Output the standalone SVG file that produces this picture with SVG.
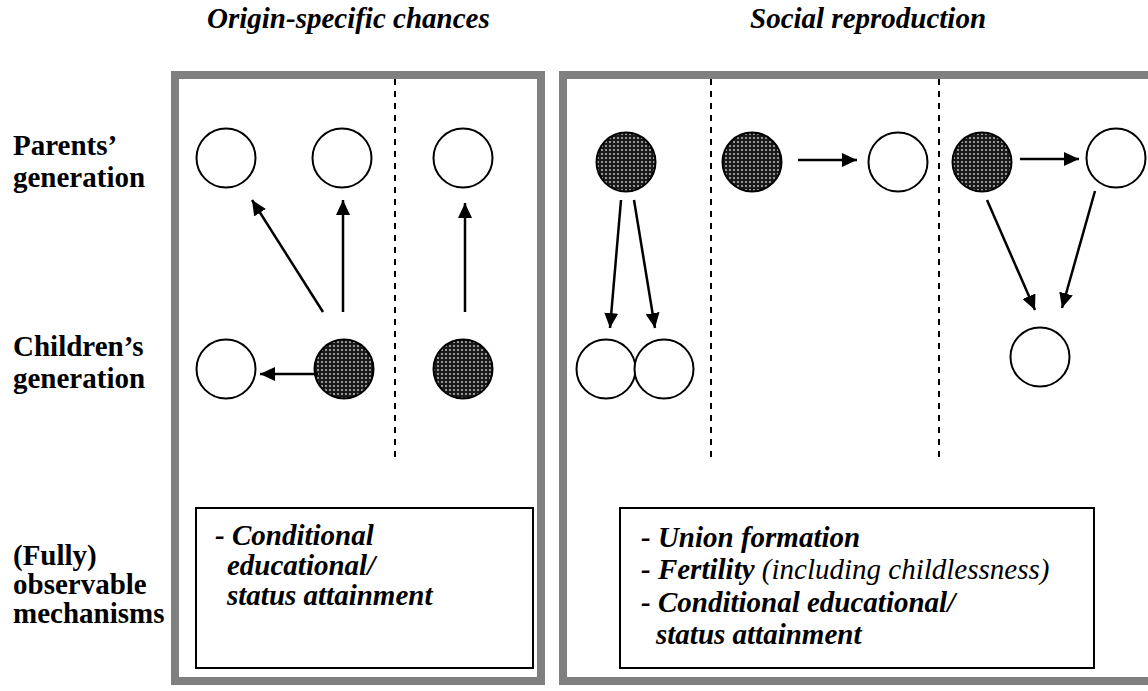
<svg xmlns="http://www.w3.org/2000/svg" width="1148" height="691" viewBox="0 0 1148 691">
<style>
.panel{fill:none;stroke:#808080;stroke-width:8}
.box{fill:#fff;stroke:#000;stroke-width:2}
.open{fill:#fff;stroke:#000;stroke-width:2}
.filled{fill:url(#dots);stroke:#000;stroke-width:2}
.dash{stroke:#000;stroke-width:2;stroke-dasharray:6,6}
.arr{stroke:#000;stroke-width:2.5;fill:none;marker-end:url(#ah)}
.it{font-style:italic}
.reg{font-weight:normal}
</style>
<defs>
<pattern id="dots" width="4" height="4" patternUnits="userSpaceOnUse">
<rect width="4" height="4" fill="#1a1a1a"/>
<circle cx="2" cy="2" r="0.9" fill="#d0d0d0"/>
</pattern>
<marker id="ah" markerUnits="userSpaceOnUse" markerWidth="16" markerHeight="14" refX="15" refY="7" orient="auto">
<path d="M0,0 L15,7 L0,14 z" fill="#000"/>
</marker>
</defs>
<rect width="1148" height="691" fill="#fff"/>
<g font-family="Liberation Serif, Tinos, Times New Roman, Noto Serif, DejaVu Serif, serif" font-weight="bold" font-size="29" fill="#000">
<g id="titles">
<text class="it" x="207" y="28">Origin-specific chances</text>
<text class="it" x="750" y="28">Social reproduction</text>
</g>
<g id="row-labels">
<text x="13" y="155">Parents’</text>
<text x="13" y="187">generation</text>
<text x="13" y="356">Children’s</text>
<text x="13" y="388">generation</text>
<text x="13" y="565">(Fully)</text>
<text x="13" y="594">observable</text>
<text x="13" y="623">mechanisms</text>
</g>
</g>
<g id="panel-left">
<rect class="panel" x="175" y="75" width="366" height="606"/>
<line class="dash" x1="395" y1="79" x2="395" y2="460"/>
</g>
<g id="panel-right">
<rect class="panel" x="563" y="75" width="590" height="606"/>
<line class="dash" x1="711" y1="79" x2="711" y2="460"/>
<line class="dash" x1="939" y1="79" x2="939" y2="460"/>
</g>
<g id="nodes-left">
<circle id="L-p1" class="open" cx="226" cy="158" r="29.5"/>
<circle id="L-p2" class="open" cx="342" cy="158" r="29.5"/>
<circle id="L-p3" class="open" cx="463" cy="158" r="29.5"/>
<circle id="L-c1" class="open" cx="226" cy="369" r="29.5"/>
<circle id="L-c2" class="filled" cx="344" cy="369" r="29.5"/>
<circle id="L-c3" class="filled" cx="463" cy="369" r="29.5"/>
</g>
<g id="nodes-right">
<circle id="R-p1" class="filled" cx="626" cy="162" r="29.5"/>
<circle id="R-p2" class="filled" cx="752" cy="162" r="29.5"/>
<circle id="R-p3" class="open" cx="898" cy="162" r="29.5"/>
<circle id="R-p4" class="filled" cx="982" cy="162" r="29.5"/>
<circle id="R-p5" class="open" cx="1116" cy="158" r="29.5"/>
<circle id="R-c1" class="open" cx="606" cy="369" r="29.5"/>
<circle id="R-c2" class="open" cx="664" cy="369" r="29.5"/>
<circle id="R-c3" class="open" cx="1040" cy="357" r="29.5"/>
</g>
<g id="connectors">
<line class="arr" x1="323" y1="312" x2="252" y2="200"/>
<line class="arr" x1="343" y1="312" x2="343" y2="200"/>
<line class="arr" x1="465" y1="312" x2="465" y2="203"/>
<line class="arr" x1="318" y1="374" x2="260" y2="374"/>
<line class="arr" x1="621" y1="200" x2="610" y2="328"/>
<line class="arr" x1="634" y1="200" x2="655" y2="328"/>
<line class="arr" x1="798" y1="160" x2="857" y2="160"/>
<line class="arr" x1="1020" y1="159" x2="1079" y2="159"/>
<line class="arr" x1="987" y1="200" x2="1035" y2="310"/>
<line class="arr" x1="1095" y1="191" x2="1062" y2="308"/>
</g>
<g font-family="Liberation Serif, Tinos, Times New Roman, Noto Serif, DejaVu Serif, serif" font-weight="bold" font-style="italic" font-size="29" fill="#000">
<g id="mech-left">
<rect class="box" x="196" y="508" width="337" height="160"/>
<text x="215" y="545">- Conditional</text>
<text x="227" y="575">educational/</text>
<text x="227" y="605">status attainment</text>
</g>
<g id="mech-right">
<rect class="box" x="620" y="508" width="474" height="160"/>
<text x="641" y="547">- Union formation</text>
<text x="641" y="579">- Fertility <tspan font-weight="normal">(including childlessness)</tspan></text>
<text x="641" y="612">- Conditional educational/</text>
<text x="656" y="644">status attainment</text>
</g>
</g>
</svg>
